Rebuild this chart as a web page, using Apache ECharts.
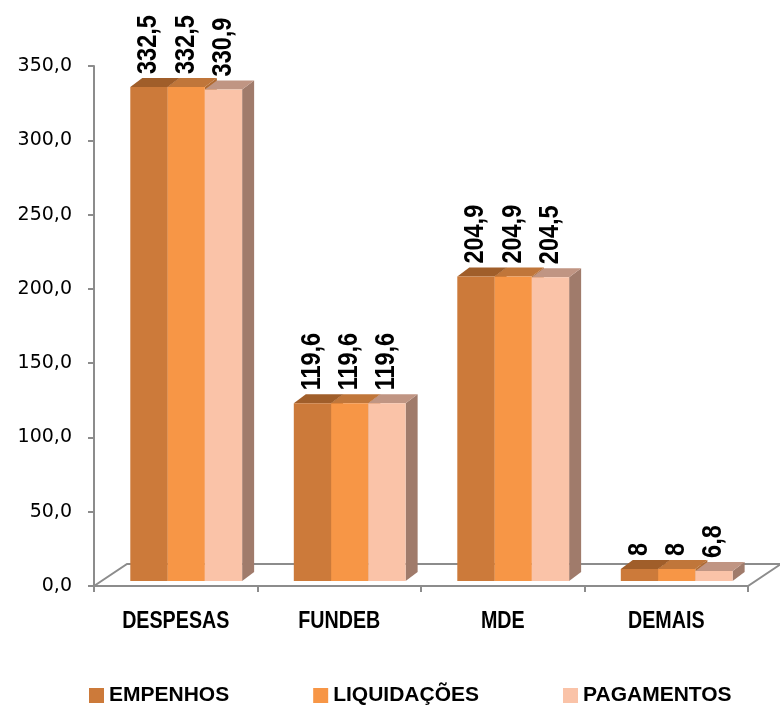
<!DOCTYPE html>
<html>
<head>
<meta charset="utf-8">
<script src="https://cdn.jsdelivr.net/npm/echarts@6/dist/echarts.min.js"></script>
<style>html,body{margin:0;padding:0;background:#fff;}#c{width:780px;height:710px;}</style>
</head>
<body>
<div id="c"></div>
<script>
const categories = ['DESPESAS', 'FUNDEB', 'MDE', 'DEMAIS'];
const seriesNames = ['EMPENHOS', 'LIQUIDAÇÕES', 'PAGAMENTOS'];
const empenhos = [332.5, 119.6, 204.9, 8];
const liquidacoes = [332.5, 119.6, 204.9, 8];
const pagamentos = [330.9, 119.6, 204.5, 6.8];
const yMin = 0, yMax = 350, yInterval = 50;

const seriesValues = [empenhos, liquidacoes, pagamentos];
const palette = [
  { front: '#CC7A3A', top: '#A05E2A', side: '#8E5424' },
  { front: '#F79646', top: '#C0763A', side: '#B06A30' },
  { front: '#FAC3A8', top: '#C09583', side: '#A07B6B' }
];
const sansFont = '"Liberation Sans", Arial, sans-serif';
const DX = 12, DY = -9, FRONT_OFF = -5;

function barRenderer(si) {
  return function (params, api) {
    const cat = api.value(0), v = api.value(1);
    const base = api.coord([cat, 0]);
    const topPt = api.coord([cat, v]);
    const size = api.size([1, 0])[0];
    const bw = size * 0.228;
    const shift = size * 0.064;
    const x0 = base[0] - 1.5 * bw + si * bw + shift;
    const yb = base[1] + FRONT_OFF;
    const yt = topPt[1] + FRONT_OFF;
    const c = palette[si];
    return {
      type: 'group',
      children: [
        { type: 'polygon', shape: { points: [[x0 + bw, yt], [x0 + bw + DX, yt + DY], [x0 + bw + DX, yb + DY], [x0 + bw, yb]] }, style: { fill: c.side } },
        { type: 'polygon', shape: { points: [[x0, yt], [x0 + bw, yt], [x0 + bw + DX, yt + DY], [x0 + DX, yt + DY]] }, style: { fill: c.top } },
        { type: 'rect', shape: { x: x0, y: yt, width: bw, height: yb - yt }, style: { fill: c.front } },
        { type: 'text', x: x0 + bw / 2, y: yt + DY - 4, rotation: Math.PI / 2, scaleX: 0.87,
          style: { text: String(v).replace('.', ','), align: 'left', verticalAlign: 'middle',
                   fontFamily: sansFont, fontWeight: 'bold', fontSize: 27, fill: '#000' } }
      ]
    };
  };
}

function floorRenderer(params, api) {
  const p0 = api.coord([0, 0]);
  const size = api.size([1, 0])[0];
  const left = p0[0] - size / 2;
  const right = left + size * categories.length;
  const y = p0[1];
  const fx = 33, fy = -22;
  const children = [{
    type: 'polygon',
    shape: { points: [[left, y], [left + fx, y + fy], [right + fx, y + fy], [right, y]] },
    style: { fill: '#fff', stroke: '#8C8C8C', lineWidth: 2 }
  }];
  categories.forEach((name, i) => {
    const p = api.coord([i, 0]);
    children.push({
      type: 'text', x: p[0], y: p[1] + 35, scaleX: 0.82,
      style: { text: name, align: 'center', verticalAlign: 'middle',
               fontFamily: sansFont, fontWeight: 'bold', fontSize: 24, fill: '#000' }
    });
  });
  return { type: 'group', children: children };
}

const series = seriesNames.map((name, si) => ({
  name: name,
  type: 'custom',
  renderItem: barRenderer(si),
  itemStyle: { color: palette[si].front },
  encode: { x: 0, y: 1 },
  data: seriesValues[si].map((v, i) => [i, v]),
  z: 3
}));
series.push({
  name: 'floor',
  type: 'custom',
  renderItem: floorRenderer,
  encode: { x: 0, y: 1 },
  data: [[0, 0]],
  silent: true,
  clip: false,
  z: 1
});

const chart = echarts.init(document.getElementById('c'));
chart.setOption({
  animation: false,
  backgroundColor: '#fff',
  grid: { left: 94, top: 66, width: 654, height: 520 },
  legend: {
    data: seriesNames,
    left: 84, top: 680, width: 690,
    icon: 'rect', itemWidth: 15, itemHeight: 15, itemGap: 84,
    textStyle: { fontFamily: sansFont, fontWeight: 'bold', fontSize: 21, color: '#000' }
  },
  xAxis: {
    type: 'category',
    data: categories,
    boundaryGap: true,
    axisLine: { lineStyle: { color: '#8C8C8C', width: 2 } },
    axisTick: { show: true, length: 6, interval: 0, lineStyle: { color: '#8C8C8C', width: 2 } },
    axisLabel: { show: false },
    splitLine: { show: false }
  },
  yAxis: {
    type: 'value',
    min: yMin, max: yMax, interval: yInterval,
    axisLine: { show: true, lineStyle: { color: '#8C8C8C', width: 2 } },
    axisTick: { show: true, length: 6, lineStyle: { color: '#8C8C8C', width: 2 } },
    axisLabel: { margin: 22, fontFamily: '"DejaVu Sans", sans-serif', fontSize: 19, color: '#000',
                 formatter: v => v.toFixed(1).replace('.', ',') },
    splitLine: { show: false }
  },
  series: series
});
</script>
</body>
</html>
